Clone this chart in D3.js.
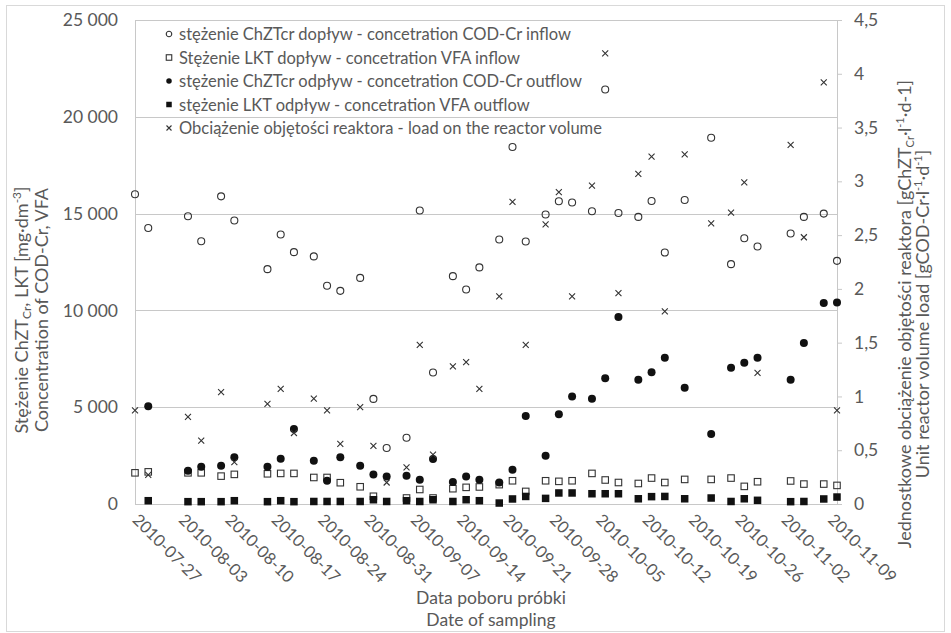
<!DOCTYPE html>
<html>
<head>
<meta charset="utf-8">
<script src="https://cdn.jsdelivr.net/npm/d3@7"></script>
<style>
  body { margin: 0; background: #fff; }
  svg text { font-family: Lato, "Open Sans", sans-serif; fill: #595959; }
</style>
</head>
<body>
<script>
const width = 951;
const height = 633;
const plotLeft = 135;
const plotRight = 837;
const plotTop = 20;
const plotBottom = 504;

// sampling dates
const dates = ['2010-07-27','2010-07-29','2010-08-04','2010-08-06','2010-08-09','2010-08-11','2010-08-16',
  '2010-08-18','2010-08-20','2010-08-23','2010-08-25','2010-08-27','2010-08-30','2010-09-01','2010-09-03',
  '2010-09-06','2010-09-08','2010-09-10','2010-09-13','2010-09-15','2010-09-17','2010-09-20','2010-09-22',
  '2010-09-24','2010-09-27','2010-09-29','2010-10-01','2010-10-04','2010-10-06','2010-10-08','2010-10-11',
  '2010-10-13','2010-10-15','2010-10-18','2010-10-22','2010-10-25','2010-10-27','2010-10-29','2010-11-03',
  '2010-11-05','2010-11-08','2010-11-10'];

// COD-Cr inflow [mg/dm3]
const codIn = [16000,14260,14860,13570,15890,14640,12130,13920,13010,12790,11270,11010,11680,5430,2890,
  3420,15160,6790,11770,11080,12220,13660,18440,13560,14950,15640,15570,15120,21410,15030,14830,
  15650,12990,15700,18920,12390,13730,13300,13970,14830,15000,12560];
// VFA inflow [mg/dm3]
const vfaIn = [1610,1660,1610,1610,1440,1530,1560,1580,1580,1370,1370,1100,890,400,null,
  310,750,310,790,860,880,1000,1200,650,1200,1170,1200,1580,1240,1110,1060,
  1340,1110,1270,1270,1340,910,1150,1190,1030,1030,960];
// COD-Cr outflow [mg/dm3]
const codOut = [null,5050,1720,1920,1970,2420,1920,2340,3870,2230,1200,2420,1970,1530,1420,
  1460,1250,2320,1130,1420,1250,1110,1770,4550,2490,4640,5550,5440,6500,9660,6420,
  6810,7560,6010,3610,7040,7300,7560,6420,8320,10380,10410];
// VFA outflow [mg/dm3]
const vfaOut = [null,170,120,120,120,170,120,170,120,130,130,130,130,220,130,
  170,130,220,130,220,170,50,260,390,290,570,570,530,530,530,270,
  380,390,270,310,130,270,190,120,130,260,360];
// load on the reactor volume [g/(l*d)]
const load = [0.87,0.27,0.81,0.59,1.04,0.39,0.93,1.07,0.66,0.98,0.87,0.56,0.90,0.54,0.20,
  0.34,1.48,0.46,1.28,1.32,1.07,1.93,2.81,1.48,2.60,2.90,1.93,2.96,4.19,1.96,3.07,
  3.23,1.79,3.25,2.61,2.71,2.99,1.22,3.34,2.48,3.92,0.87];

const xTickLabels = ['2010-07-27','2010-08-03','2010-08-10','2010-08-17','2010-08-24','2010-08-31',
  '2010-09-07','2010-09-14','2010-09-21','2010-09-28','2010-10-05','2010-10-12','2010-10-19',
  '2010-10-26','2010-11-02','2010-11-09'];
const leftTicks = [0,5000,10000,15000,20000,25000];
const rightTicks = [0,0.5,1,1.5,2,2.5,3,3.5,4,4.5];

const legendLabels = [
  'stężenie ChZTcr dopływ - concetration COD-Cr inflow',
  'Stężenie LKT dopływ - concetration VFA inflow',
  'stężenie ChZTcr odpływ - concetration COD-Cr outflow',
  'stężenie LKT odpływ - concetration VFA outflow',
  'Obciążenie objętości reaktora - load on the reactor volume'
];

const parse = d3.utcParse('%Y-%m-%d');
const pl = d3.formatLocale({decimal: ',', thousands: ' ', grouping: [3], currency: ['', '']});

const svg = d3.select('body').append('svg')
  .attr('width', width).attr('height', height);

svg.append('rect')
  .attr('x', 6.5).attr('y', 5.5)
  .attr('width', 938).attr('height', 626)
  .attr('fill', '#fff').attr('stroke', '#d9d9d9');

const x = d3.scaleUtc()
  .domain([parse('2010-07-27'), parse('2010-11-10')])
  .range([plotLeft, plotRight]);
const yL = d3.scaleLinear().domain([0, 25000]).range([plotBottom, plotTop]);
const yR = d3.scaleLinear().domain([0, 4.5]).range([plotBottom, plotTop]);

// gridlines
svg.append('g').selectAll('line').data(leftTicks).join('line')
  .attr('x1', plotLeft).attr('x2', plotRight)
  .attr('y1', d => Math.round(yL(d)) + 0.5).attr('y2', d => Math.round(yL(d)) + 0.5)
  .attr('stroke', '#c8c8c8');

// left axis
const leftAxis = svg.append('g')
  .attr('transform', `translate(${plotLeft},0)`)
  .call(d3.axisLeft(yL).tickValues(leftTicks).tickSize(0).tickPadding(17).tickFormat(pl.format(',d')));
leftAxis.select('.domain').attr('stroke', '#c8c8c8');
leftAxis.selectAll('text').style('font-size', '17.5px').attr('fill', '#595959');

// right axis
const rightAxis = svg.append('g')
  .attr('transform', `translate(${plotRight},0)`)
  .call(d3.axisRight(yR).tickValues(rightTicks).tickSize(5).tickPadding(12)
    .tickFormat(d => String(d).replace('.', ',')));
rightAxis.select('.domain').attr('stroke', '#c8c8c8');
rightAxis.selectAll('line').attr('stroke', '#c8c8c8');
rightAxis.selectAll('text').style('font-size', '17.5px').attr('fill', '#595959');

// bottom axis
const bottomAxis = svg.append('g')
  .attr('transform', `translate(0,${plotBottom})`)
  .call(d3.axisBottom(x).tickValues(xTickLabels.map(parse)).tickSize(0)
    .tickFormat(d3.utcFormat('%Y-%m-%d')));
bottomAxis.select('.domain').attr('stroke', '#c8c8c8');
bottomAxis.selectAll('text')
  .style('font-size', '16.5px').attr('fill', '#595959')
  .attr('text-anchor', 'start')
  .attr('dy', null).attr('y', 0)
  .attr('transform', 'translate(-4,17) rotate(45)');

// axis titles
const leftTitle = svg.append('text')
  .attr('transform', 'translate(28,310) rotate(-90)')
  .attr('text-anchor', 'middle').style('font-size', '18px');
leftTitle.append('tspan').text('Stężenie  ChZT');
leftTitle.append('tspan').text('Cr').style('font-size', '12px').attr('dy', 3);
leftTitle.append('tspan').text(', LKT [mg·dm').attr('dy', -3);
leftTitle.append('tspan').text('-3').style('font-size', '12px').attr('dy', -7);
leftTitle.append('tspan').text(']').attr('dy', 7);
svg.append('text')
  .attr('transform', 'translate(48,310) rotate(-90)')
  .attr('text-anchor', 'middle').style('font-size', '18px')
  .text('Concentration of COD-Cr, VFA');

const rightTitle = svg.append('text')
  .attr('transform', 'translate(911,314) rotate(-90)')
  .attr('text-anchor', 'middle').style('font-size', '18px');
rightTitle.append('tspan').text('Jednostkowe obciążenie objętości reaktora [gChZT');
rightTitle.append('tspan').text('Cr').style('font-size', '11px').attr('dy', 3);
rightTitle.append('tspan').text('·l').attr('dy', -3);
rightTitle.append('tspan').text('-1').style('font-size', '11px').attr('dy', -7);
rightTitle.append('tspan').text('·d-1]').attr('dy', 7);
const rightTitle2 = svg.append('text')
  .attr('transform', 'translate(929,314) rotate(-90)')
  .attr('text-anchor', 'middle').style('font-size', '18px');
rightTitle2.append('tspan').text('Unit reactor volume load [gCOD-Cr·l');
rightTitle2.append('tspan').text('-1').style('font-size', '11px').attr('dy', -7);
rightTitle2.append('tspan').text('·d').attr('dy', 7);
rightTitle2.append('tspan').text('-1').style('font-size', '11px').attr('dy', -7);
rightTitle2.append('tspan').text(']').attr('dy', 7);

svg.append('text').attr('x', 491).attr('y', 604)
  .attr('text-anchor', 'middle').style('font-size', '17.5px').text('Data poboru próbki');
svg.append('text').attr('x', 491).attr('y', 626)
  .attr('text-anchor', 'middle').style('font-size', '17.5px').text('Date of sampling');

// marker helpers
function drawMarker(g, type, size) {
  const h = size / 2;
  if (type === 'openCircle') {
    g.append('circle').attr('r', h).attr('fill', 'none').attr('stroke', '#333').attr('stroke-width', 1.1);
  } else if (type === 'fillCircle') {
    g.append('circle').attr('r', h).attr('fill', '#111');
  } else if (type === 'openSquare') {
    g.append('rect').attr('x', -h).attr('y', -h).attr('width', size).attr('height', size)
      .attr('fill', 'none').attr('stroke', '#333').attr('stroke-width', 1.1);
  } else if (type === 'fillSquare') {
    g.append('rect').attr('x', -h).attr('y', -h).attr('width', size).attr('height', size).attr('fill', '#111');
  } else {
    g.append('path').attr('d', `M${-h},${-h}L${h},${h}M${-h},${h}L${h},${-h}`)
      .attr('stroke', '#333').attr('stroke-width', 1.1);
  }
}

const series = [
  {values: codIn, type: 'openCircle', size: 7, y: yL},
  {values: vfaIn, type: 'openSquare', size: 6.5, y: yL},
  {values: codOut, type: 'fillCircle', size: 8, y: yL},
  {values: vfaOut, type: 'fillSquare', size: 7.5, y: yL},
  {values: load, type: 'cross', size: 6, y: yR}
];

series.forEach(s => {
  const pts = dates.map((d, i) => ({date: parse(d), v: s.values[i]})).filter(p => p.v != null);
  svg.append('g').selectAll('g').data(pts).join('g')
    .attr('transform', p => `translate(${x(p.date)},${s.y(p.v)})`)
    .each(function() { drawMarker(d3.select(this), s.type, s.size); });
});

// legend
const legend = svg.append('g').attr('transform', 'translate(169,34)');
legendLabels.forEach((lab, i) => {
  const row = legend.append('g').attr('transform', `translate(0,${i * 23.5})`);
  drawMarker(row, series[i].type, series[i].type === 'cross' ? 5 : 5.5);
  row.append('text').attr('x', 10).attr('y', 6).style('font-size', '16.5px').text(lab);
});
</script>
</body>
</html>
